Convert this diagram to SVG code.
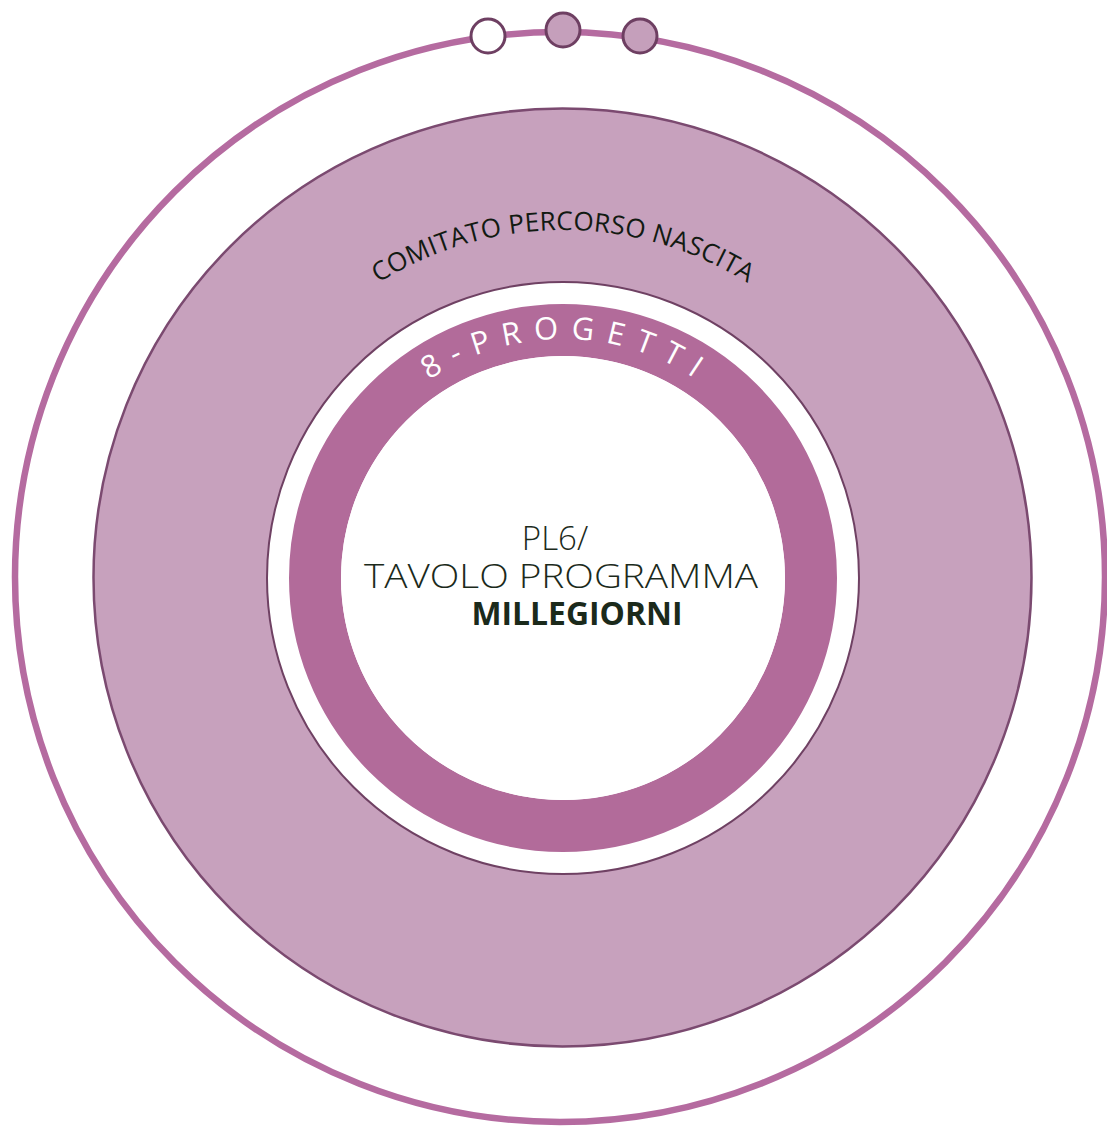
<svg xmlns="http://www.w3.org/2000/svg" width="1107" height="1126" viewBox="0 0 1107 1126">
<style>
.arc1{font-family:"Open Sans","Liberation Sans",sans-serif;font-size:26px;fill:#121a12;letter-spacing:0.2px}
.arc2{font-family:"Open Sans","Liberation Sans",sans-serif;font-size:31px;fill:#ffffff;letter-spacing:12px}
.ctr{font-family:"Open Sans","Liberation Sans",sans-serif;fill:#1b2a1b;text-anchor:middle}
.dot{stroke:#6e3f62;stroke-width:3}
</style>
<defs>
<path id="p1" d="M296.4,354.3 A348,348 0 0 1 829.6,354.3"/>
<path id="p2" d="M379.9,424.4 A239,239 0 0 1 746.1,424.4"/>
</defs>
<rect width="1107" height="1126" fill="#ffffff"/>
<g id="outer">
<circle cx="560" cy="577" r="545" fill="#ffffff" stroke="#b56ba0" stroke-width="6.5"/>
</g>
<g id="dots">
<circle class="dot" cx="488" cy="36" r="17" fill="#ffffff"/>
<circle class="dot" cx="563" cy="30" r="17" fill="#c59fbb"/>
<circle class="dot" cx="640" cy="36" r="17" fill="#c59fbb"/>
</g>
<g id="comitato">
<circle cx="562.5" cy="577.5" r="469" fill="#c7a1bd" stroke="#7b4a70" stroke-width="2.5"/>
<text class="arc1"><textPath href="#p1" startOffset="50%" text-anchor="middle">COMITATO PERCORSO NASCITA</textPath></text>
</g>
<g id="progetti">
<circle cx="563" cy="578" r="296" fill="#ffffff" stroke="#6f4163" stroke-width="2"/>
<circle cx="563" cy="578" r="248" fill="none" stroke="#b26b9a" stroke-width="52"/>
<text class="arc2"><textPath href="#p2" startOffset="51%" text-anchor="middle">8-PROGETTI</textPath></text>
</g>
<g id="center">
<circle cx="563" cy="578" r="222" fill="#ffffff"/>
<text class="ctr" x="555" y="550" font-size="33" font-weight="300">PL6/</text>
<text class="ctr" x="561" y="588" font-size="33" font-weight="300" textLength="394" lengthAdjust="spacingAndGlyphs">TAVOLO PROGRAMMA</text>
<text class="ctr" x="577" y="625" font-size="33" font-weight="700" textLength="211" lengthAdjust="spacingAndGlyphs">MILLEGIORNI</text>
</g>
<g id="connectors"/>
</svg>
